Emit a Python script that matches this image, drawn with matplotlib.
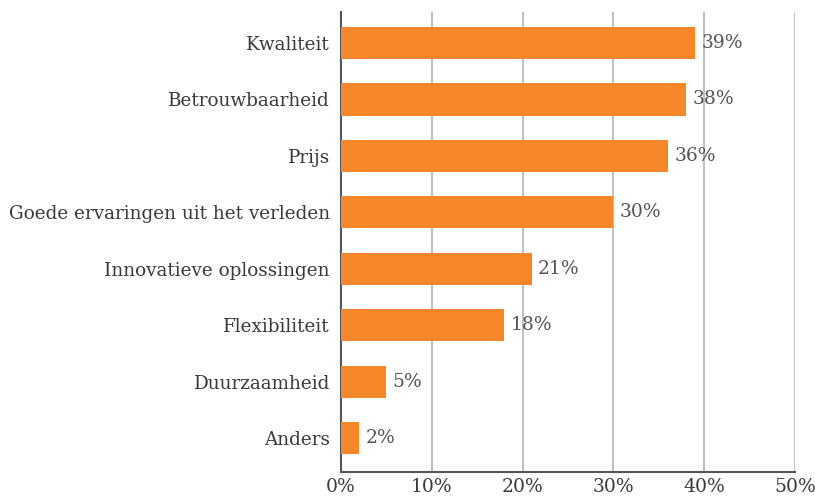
import matplotlib.pyplot as plt
from matplotlib.ticker import FuncFormatter

categories = ["Kwaliteit", "Betrouwbaarheid", "Prijs", "Goede ervaringen uit het verleden",
              "Innovatieve oplossingen", "Flexibiliteit", "Duurzaamheid", "Anders"]
values = [39, 38, 36, 30, 21, 18, 5, 2]

plt.rcParams['font.family'] = ['DejaVu Serif']
text_col = "#3a3a3a"

fig = plt.figure(figsize=(8.15, 4.96), dpi=100)
ax = fig.add_axes([0.4184, 0.048, 0.5571, 0.928])

y = list(range(len(categories)))[::-1]
ax.barh(y, values, height=0.57, color="#f5872a", zorder=3)
for yi, v in zip(y, values):
    ax.text(v + 0.7, yi, f"{v}%", va="center", ha="left", fontsize=13.5,
            color="#555555", zorder=4)

ax.set_xlim(0, 50)
ax.set_ylim(-0.6, 7.55)
ax.set_xticks(range(0, 51, 10))
ax.xaxis.set_major_formatter(FuncFormatter(lambda x, p: f"{int(x)}%"))
ax.set_yticks(y)
ax.set_yticklabels(categories)
ax.tick_params(axis="both", length=0, labelsize=13.5, labelcolor=text_col)
ax.tick_params(axis="y", labelsize=13.2, pad=8)
ax.tick_params(axis="x", pad=4)

ax.grid(axis="x", color="#b4b4b4", linewidth=1.2, zorder=0)
for s in ["top", "right"]:
    ax.spines[s].set_visible(False)
ax.spines["left"].set_color("#555555")
ax.spines["bottom"].set_color("#555555")
ax.spines["left"].set_linewidth(1.5)
ax.spines["bottom"].set_linewidth(1.5)

fig.savefig("out.png", dpi=100)
